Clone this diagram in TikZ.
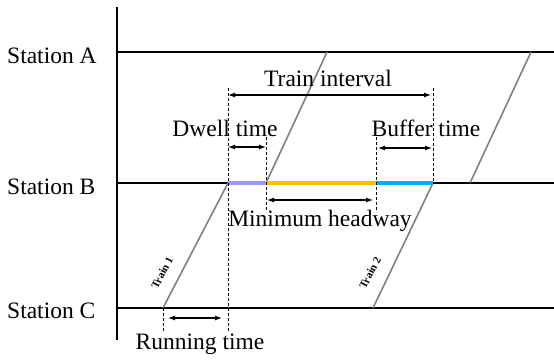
\documentclass[tikz,border=0pt]{standalone}
\usepackage{fontspec}
\setmainfont{Liberation Serif}
\usepackage{xcolor}
\usepackage{tikz}
\usetikzlibrary{positioning}
\usetikzlibrary{arrows.meta}
\usetikzlibrary{calc}

\definecolor{dwellc}{RGB}{153,153,255}
\definecolor{headc}{RGB}{255,192,0}
\definecolor{bufc}{RGB}{0,176,240}
\definecolor{trainc}{RGB}{128,128,128}

\begin{document}
\begin{tikzpicture}[x=1pt, y=-1pt,
	lbl/.style = {inner sep=0pt, font=\fontsize{23.5}{27}\selectfont},
	trainlbl/.style = {inner sep=0pt, text=black, rotate=62, font=\fontsize{11}{12}\selectfont\bfseries},
	axisline/.style = {line width=1.7pt},
	trainline/.style = {line width=1.6pt, trainc},
	guide/.style = {line width=0.8pt, dash pattern=on 3pt off 2pt},
	span/.style = {{Latex[length=7pt,width=5pt]}-{Latex[length=7pt,width=5pt]}, line width=1.2pt},
	seg/.style = {line width=4pt}]

\useasboundingbox (0,0) rectangle (554,359);

% axis and station lines
\coordinate (top) at (117,7);
\coordinate (bot) at (117,340);
\coordinate (a0) at (117,52);
\coordinate (a1) at (554,52);
\coordinate (b0) at (117,183);
\coordinate (b1) at (554,183);
\coordinate (c0) at (117,308);
\coordinate (c1) at (554,308);

\draw[axisline] (top) -- (bot);
\draw[axisline] (a0) -- (a1);
\draw[axisline] (b0) -- (b1);
\draw[axisline] (c0) -- (c1);

\node[lbl, anchor=west] (stA) at (7,56) {Station A};
\node[lbl, anchor=west] (stB) at (7,187) {Station B};
\node[lbl, anchor=west] (stC) at (7,311) {Station C};

% trains
\coordinate (t1c) at (163,308);
\coordinate (t1in) at (228,183);
\coordinate (t1out) at (266,183);
\coordinate (t1a) at (327,52);

\coordinate (t2c) at (373,308);
\coordinate (t2in) at (433,183);
\coordinate (t2out) at (470,183);
\coordinate (t2a) at (531,52);

\draw[trainline] (t1c) -- (t1in);
\draw[trainline] (t1out) -- (t1a);
\draw[trainline] (t2c) -- (t2in);
\draw[trainline] (t2out) -- (t2a);

\node[trainlbl] (tr1) at (162,273) {Train 1};
\node[trainlbl] (tr2) at (370,273) {Train 2};

% occupation of station B
\coordinate (hd) at (376,183);
\draw[seg, dwellc] (t1in) -- (t1out);
\draw[seg, headc] (t1out) -- (hd);
\draw[seg, bufc] (hd) -- (t2in);
\draw[line width=2.4pt] (t2in) -- (t2out);

% guide lines
\coordinate (g0a) at (163,332);
\coordinate (g1t) at (228,88);
\coordinate (g1b) at (228,332);
\coordinate (g2t) at (266,137);
\coordinate (g2b) at (266,212);
\coordinate (g3t) at (376,137);
\coordinate (g3b) at (376,212);
\coordinate (g4t) at (433,88);

\draw[guide] (t1c) -- (g0a);
\draw[guide] (g1t) -- (g1b);
\draw[guide] (g2t) -- (g2b);
\draw[guide] (g3t) -- (g3b);
\draw[guide] (g4t) -- (t2in);

% intervals
\draw[span] (228,95) -- (431,95);
\draw[span] (228,147) -- (266,147);
\draw[span] (378,148) -- (432,148);
\draw[span] (267,200) -- (373,200);
\draw[span] (168,318) -- (222,318);

\node[lbl] (intv) at (328,78) {Train interval};
\node[lbl] (dwell) at (225,128) {Dwell time};
\node[lbl] (buf) at (426,128) {Buffer time};
\node[lbl] (head) at (320,221) {Minimum headway};
\node[lbl] (run) at (200,344) {Running time};
\end{tikzpicture}
\end{document}
